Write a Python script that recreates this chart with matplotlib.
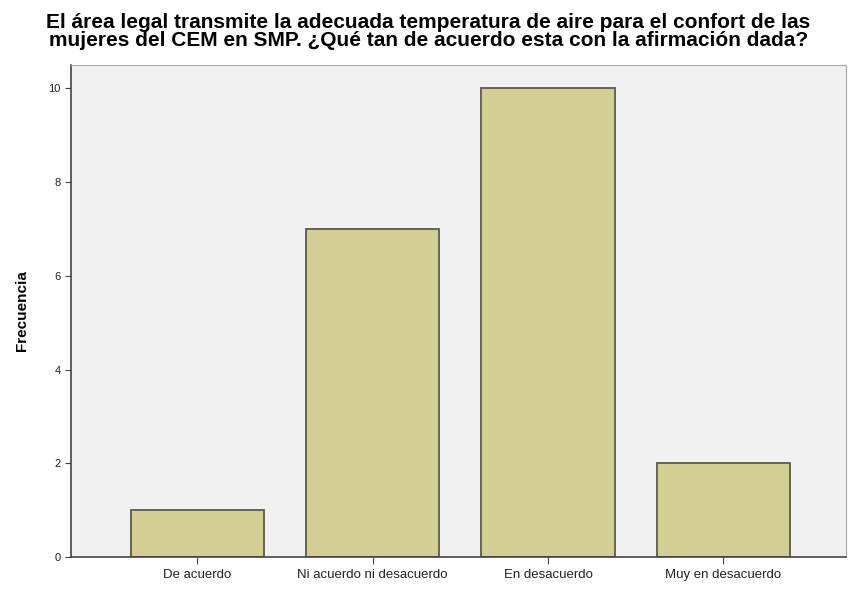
import numpy as np
import matplotlib.pyplot as plt

categories = ["De acuerdo", "Ni acuerdo ni desacuerdo", "En desacuerdo", "Muy en desacuerdo"]
frecuencia = [1, 7, 10, 2]
y_ticks = [0, 2, 4, 6, 8, 10]

plt.rcParams['font.family'] = ['Liberation Sans', 'DejaVu Sans']

fig = plt.figure(figsize=(8.48, 5.95), dpi=100)
ax = fig.add_axes([0.0837, 0.0639, 0.914, 0.827])
ax.set_facecolor('#f1f1f1')

x = np.arange(len(categories))
ax.bar(x, frecuencia, width=0.76, color='#d3ce94', edgecolor='#5a5a4a', linewidth=1.3)

ax.set_xlim(-0.72, 3.7)
ax.set_ylim(0, 10.5)
ax.set_yticks(y_ticks)
ax.set_xticks(x)
ax.set_xticklabels(categories, fontsize=9.5, color='#222222')
ax.tick_params(axis='y', labelsize=8, length=4, color='#444444', labelcolor='#222222')
ax.tick_params(axis='x', length=5, pad=4, color='#444444')

for side in ['left', 'bottom']:
    ax.spines[side].set_color('#444444')
    ax.spines[side].set_linewidth(1.2)
for side in ['top', 'right']:
    ax.spines[side].set_color('#aaaaaa')

ax.set_ylabel('Frecuencia', fontsize=11, fontweight='bold', labelpad=14)

fig.suptitle('El área legal transmite la adecuada temperatura de aire para el confort de las\n'
             'mujeres del CEM en SMP. ¿Qué tan de acuerdo esta con la afirmación dada?',
             fontsize=15, fontweight='bold', x=0.505, y=0.978, linespacing=0.95)

fig.savefig('out.png', dpi=100)
